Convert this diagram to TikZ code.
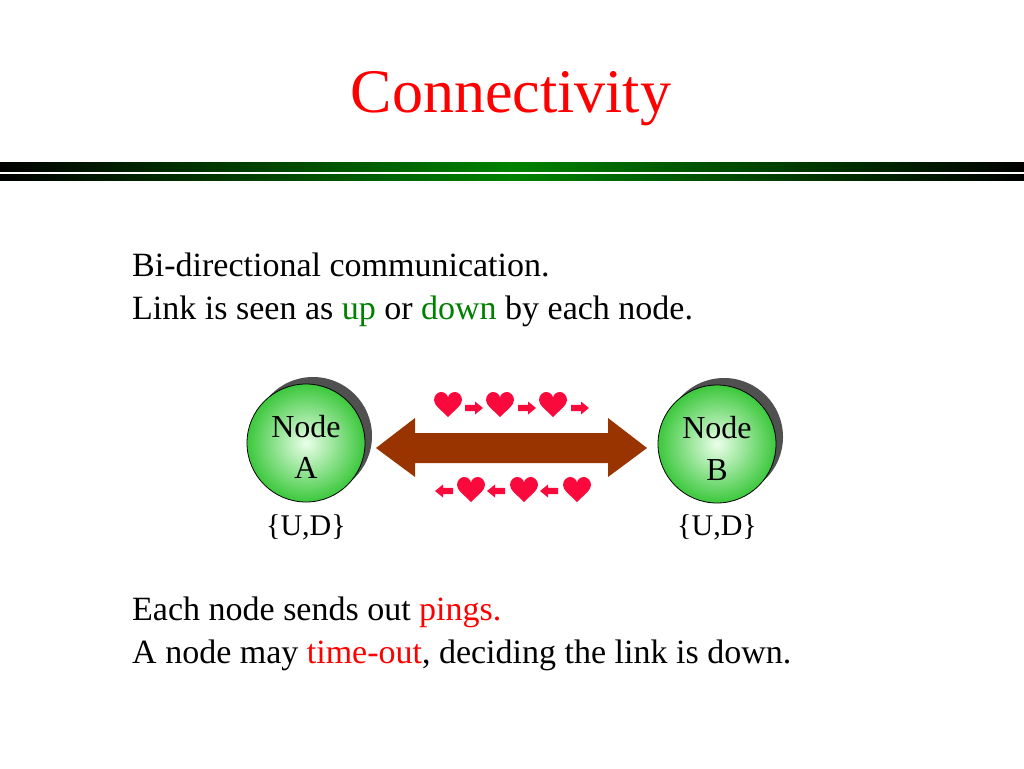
\documentclass[tikz,border=0pt]{standalone}
\usepackage{fontspec}
\setmainfont{Liberation Serif}
\definecolor{titlered}{RGB}{255,0,0}
\definecolor{txtgreen}{RGB}{0,128,0}
\definecolor{barg}{RGB}{0,130,0}
\definecolor{linkbrown}{RGB}{153,51,0}
\definecolor{heartred}{RGB}{250,10,60}
\definecolor{nodegreen}{RGB}{60,200,60}
\definecolor{shadowgrey}{RGB}{80,80,80}
\begin{document}
\begin{tikzpicture}[x=1pt,y=-1pt,
  bodytext/.style={anchor=base west,inner sep=0pt,font=\fontsize{34}{40}\selectfont},
  nodecircle/.style={circle,draw=black,line width=0.8pt,minimum size=118pt,inner sep=0pt,
     inner color=green!8!white,outer color=nodegreen},
  shadowcircle/.style={circle,fill=shadowgrey,minimum size=118pt,inner sep=0pt},
  nodelabel/.style={anchor=base,inner sep=0pt,font=\fontsize{32}{38}\selectfont},
  setlabel/.style={anchor=base,inner sep=0pt,font=\fontsize{30}{36}\selectfont},
  heart/.pic={\fill[heartred] (0,12) .. controls (-8,4) and (-14,0) .. (-14,-5)
      .. controls (-14,-10) and (-10,-13) .. (-7,-13)
      .. controls (-3,-13) and (0,-10) .. (0,-7)
      .. controls (0,-10) and (3,-13) .. (7,-13)
      .. controls (10,-13) and (14,-10) .. (14,-5)
      .. controls (14,0) and (8,4) .. (0,12) -- cycle;},
  rarrow/.pic={\fill[heartred] (-9,-3.2) -- (1,-3.2) -- (1,-6.5) -- (9,0) -- (1,6.5) -- (1,3.2) -- (-9,3.2) -- cycle;},
  larrow/.pic={\fill[heartred] (9,-3.2) -- (-1,-3.2) -- (-1,-6.5) -- (-9,0) -- (-1,6.5) -- (-1,3.2) -- (9,3.2) -- cycle;}
]
\useasboundingbox[fill=white] (0,0) rectangle (1024,768);

% title
\node[anchor=base,inner sep=0pt,text=titlered,font=\fontsize{62}{70}\selectfont] (title) at (511,112) {Connectivity};

% bars
\shade[left color=black,right color=black,middle color=barg] (0,162) rectangle (1024,171);
\shade[left color=black,right color=black,middle color=barg] (0,174) rectangle (1024,180);

% text
\node[bodytext] (l1) at (132,276) {Bi-directional communication.};
\node[bodytext] (l2) at (132,319) {Link is seen as \textcolor{txtgreen}{up} or \textcolor{txtgreen}{down} by each node.};
\node[bodytext] (l3) at (132,620) {Each node sends out \textcolor{titlered}{pings.}};
\node[bodytext] (l4) at (132,663) {A node may \textcolor{titlered}{time-out}, deciding the link is down.};

% nodes
\node[shadowcircle] (shA) at (313,436) {};
\node[nodecircle] (A) at (306,443) {};
\node[nodelabel] (Atop) at (306,437) {Node};
\node[nodelabel] (Abot) at (306,478) {A};
\node[setlabel] (Aset) at (306,535) {\{U,D\}};

\node[shadowcircle] (shB) at (724,437) {};
\node[nodecircle] (B) at (717,444) {};
\node[nodelabel] (Btop) at (717,438) {Node};
\node[nodelabel] (Bbot) at (717,480) {B};
\node[setlabel] (Bset) at (717,535) {\{U,D\}};

% link double arrow
\coordinate (Ltip) at (376,448);
\coordinate (Rtip) at (647,448);
\fill[linkbrown] (Ltip) -- (415,418) -- (415,433) -- (608,433) -- (608,418) -- (Rtip)
  -- (608,477) -- (608,463) -- (415,463) -- (415,477) -- cycle;

% pings top row
\pic at (448,405) {heart};
\pic at (474,408) {rarrow};
\pic at (500,405) {heart};
\pic at (527,408) {rarrow};
\pic at (553,405) {heart};
\pic at (580,408) {rarrow};

% pings bottom row
\pic at (444,491) {larrow};
\pic at (471,490) {heart};
\pic at (496,491) {larrow};
\pic at (524,490) {heart};
\pic at (549,491) {larrow};
\pic at (577,490) {heart};
\end{tikzpicture}
\end{document}
